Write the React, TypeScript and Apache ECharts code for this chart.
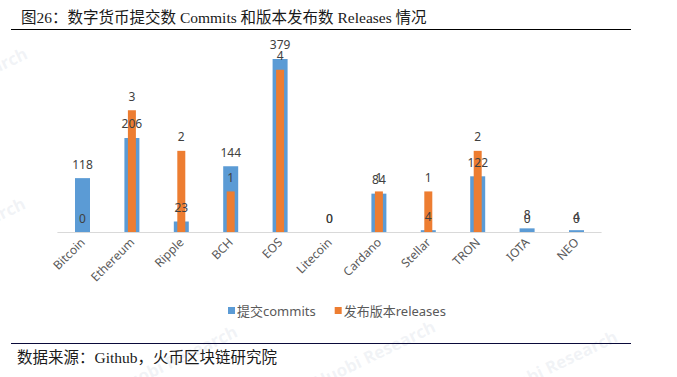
import React, { useEffect, useRef } from "react";
import * as echarts from "echarts";

const categories = ["Bitcoin", "Ethereum", "Ripple", "BCH", "EOS", "Litecoin", "Cardano", "Stellar", "TRON", "IOTA", "NEO"];
const commits = [118, 206, 23, 144, 379, 0, 84, 4, 122, 8, 4];
const releases = [0, 3, 2, 1, 4, 0, 1, 1, 2, 0, 0];
const seriesNames = ["提交commits", "发布版本releases"];
const titleText = "图26：数字货币提交数 Commits 和版本发布数 Releases 情况";
const sourceText = "数据来源：Github，火币区块链研究院";

const watermarks: [number, number][] = [
  [26, 52],
  [24, 202],
  [236, 330],
  [434, 325],
  [616, 335],
];

export default function App() {
  const ref = useRef<HTMLDivElement>(null);
  useEffect(() => {
    if (!ref.current) return;
    const chart = echarts.init(ref.current, null, { renderer: "svg" });
    const labelFont = "'Noto Sans', 'Noto Sans CJK SC', sans-serif";
    const wm = watermarks.map(([x, y]) => ({
      type: "text",
      x,
      y,
      rotation: 0.45,
      z: -10,
      silent: true,
      style: {
        text: "Huobi Research",
        align: "right",
        verticalAlign: "middle",
        fill: "rgba(185,195,212,0.2)",
        font: "bold 17px 'Open Sans', sans-serif",
      },
    }));
    chart.setOption({
      animation: false,
      backgroundColor: "#ffffff",
      graphic: [
        ...wm,
        {
          type: "text",
          x: 21,
          y: 17,
          style: {
            text: titleText,
            fill: "#1a1a1a",
            font: "15.5px 'Liberation Serif', 'Noto Sans CJK SC', serif",
            verticalAlign: "middle",
          },
        },
        {
          type: "line",
          shape: { x1: 11, y1: 29.5, x2: 631, y2: 29.5 },
          style: { stroke: "#000000", lineWidth: 1 },
        },
        {
          type: "line",
          shape: { x1: 11, y1: 343.5, x2: 631, y2: 343.5 },
          style: { stroke: "#0a0a3a", lineWidth: 1 },
        },
        {
          type: "text",
          x: 17,
          y: 357,
          style: {
            text: sourceText,
            fill: "#1a1a1a",
            font: "15.5px 'Liberation Serif', 'Noto Sans CJK SC', serif",
            verticalAlign: "middle",
          },
        },
      ],
      legend: {
        left: 228,
        top: 304,
        padding: 0,
        itemWidth: 7,
        itemHeight: 7,
        itemGap: 19,
        icon: "rect",
        textStyle: { color: "#595959", fontSize: 13, fontFamily: labelFont, padding: [0, 0, 0, -3] },
        data: seriesNames,
      },
      grid: { left: 57.8, right: 75.8, top: 49.4, bottom: 145, containLabel: false },
      xAxis: [
        {
          type: "category",
          data: categories,
          axisLine: { lineStyle: { color: "#d9d9d9" } },
          axisTick: { show: false },
          axisLabel: { rotate: 45, color: "#595959", fontSize: 12, fontFamily: labelFont, margin: 8, interval: 0 },
        },
        {
          type: "category",
          data: categories,
          show: false,
        },
      ],
      yAxis: [
        { type: "value", min: 0, max: 400, show: false, splitLine: { show: false } },
        { type: "value", min: 0, max: 4.5, show: false, splitLine: { show: false } },
      ],
      series: [
        {
          name: seriesNames[0],
          type: "bar",
          xAxisIndex: 0,
          yAxisIndex: 0,
          data: commits,
          barWidth: 15,
          itemStyle: { color: "#5B9BD5" },
          label: { show: true, position: "top", distance: 8, color: "#404040", fontSize: 12, fontFamily: labelFont },
        },
        {
          name: seriesNames[1],
          type: "bar",
          xAxisIndex: 1,
          yAxisIndex: 1,
          data: releases,
          barWidth: 8,
          itemStyle: { color: "#ED7D31" },
          label: { show: true, position: "top", distance: 8, color: "#404040", fontSize: 12, fontFamily: labelFont },
        },
      ],
    });
    return () => chart.dispose();
  }, []);
  return <div ref={ref} style={{ width: 677, height: 377, position: "absolute", left: 0, top: 0 }} />;
}
